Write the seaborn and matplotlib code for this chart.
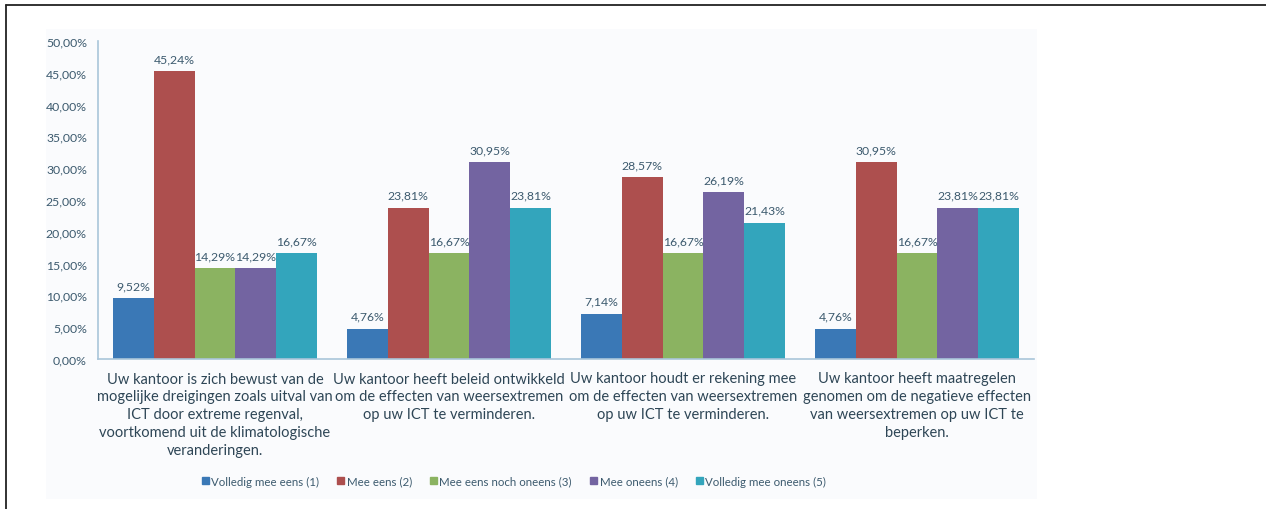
import matplotlib
matplotlib.use("Agg")
import matplotlib.pyplot as plt
import matplotlib.lines as mlines
import matplotlib.patches as mpatches
import pandas as pd
import seaborn as sns

# data
categories = [
    "Uw kantoor is zich bewust van de\nmogelijke dreigingen zoals uitval van\nICT door extreme regenval,\nvoortkomend uit de klimatologische\nveranderingen.",
    "Uw kantoor heeft beleid ontwikkeld\nom de effecten van weersextremen\nop uw ICT te verminderen.",
    "Uw kantoor houdt er rekening mee\nom de effecten van weersextremen\nop uw ICT te verminderen.",
    "Uw kantoor heeft maatregelen\ngenomen om de negatieve effecten\nvan weersextremen op uw ICT te\nbeperken.",
]
series = [
    "Volledig mee eens (1)",
    "Mee eens (2)",
    "Mee eens noch oneens (3)",
    "Mee oneens (4)",
    "Volledig mee oneens (5)",
]
volledig_eens = [9.52, 4.76, 7.14, 4.76]
mee_eens = [45.24, 23.81, 28.57, 30.95]
neutraal = [14.29, 16.67, 16.67, 16.67]
mee_oneens = [14.29, 30.95, 26.19, 23.81]
volledig_oneens = [16.67, 23.81, 21.43, 23.81]
y_ticks = [0, 5, 10, 15, 20, 25, 30, 35, 40, 45, 50]

colours = ["#3A78B6", "#AD4F4E", "#8BB361", "#7364A1", "#33A5BC"]

sns.set_style("white")
plt.rcParams["font.family"] = ["Lato", "DejaVu Sans"]

rows = []
for name, vals in zip(series, [volledig_eens, mee_eens, neutraal, mee_oneens, volledig_oneens]):
    for cat, v in zip(categories, vals):
        rows.append({"categorie": cat, "antwoord": name, "pct": v})
df = pd.DataFrame(rows)

fig = plt.figure(figsize=(12.66, 5.10), dpi=100)
fig.patch.set_facecolor("white")

# faint chart-area background
fig.add_artist(mpatches.Rectangle((46 / 1266, 1 - 500 / 510), (1037 - 46) / 1266, 470 / 510,
                                  transform=fig.transFigure, facecolor="#FAFBFD",
                                  edgecolor="none", zorder=-10))
# page frame lines (left and top)
fig.add_artist(mlines.Line2D([6 / 1266, 6 / 1266], [0, 1 - 6 / 510], color="#222222", lw=1.3))
fig.add_artist(mlines.Line2D([6 / 1266, 1], [1 - 6 / 510, 1 - 6 / 510], color="#222222", lw=1.3))

ax = fig.add_axes([98 / 1266, 1 - 360 / 510, (1034 - 98) / 1266, (360 - 42) / 510])
ax.set_facecolor("none")

sns.barplot(data=df, x="categorie", y="pct", hue="antwoord", hue_order=series,
            order=categories, palette=colours, width=0.87, gap=0, saturation=1,
            edgecolor="none", ax=ax)

for cont in ax.containers:
    ax.bar_label(cont, labels=[f"{v:.2f}%".replace(".", ",") for v in cont.datavalues],
                 padding=5, fontsize=8.8, color="#3C5A6E")

ax.set_ylim(0, 50)
ax.set_yticks(y_ticks)
ax.set_yticklabels([f"{t:.2f}%".replace(".", ",") for t in y_ticks], fontsize=8.8, color="#3C5A6E")
ax.set_xlim(-0.5, 3.5)
ax.set_xlabel("")
ax.set_ylabel("")
ax.tick_params(axis="x", length=0, pad=9, labelsize=10.5, labelcolor="#2E4656")
ax.tick_params(axis="y", length=0, pad=8)
for lab in ax.get_xticklabels():
    lab.set_linespacing(1.35)

for side in ["top", "right"]:
    ax.spines[side].set_visible(False)
for side in ["left", "bottom"]:
    ax.spines[side].set_color("#A9C5DA")
    ax.spines[side].set_linewidth(1.2)

handles = [mpatches.Patch(color=c, label=s) for c, s in zip(colours, series)]
ax.get_legend().remove()
fig.legend(handles=handles, loc="center", bbox_to_anchor=(514 / 1266, 1 - 482 / 510),
           ncol=5, frameon=False, fontsize=8.3, handlelength=0.6, handleheight=0.6,
           handletextpad=0.2, columnspacing=1.6, labelcolor="#3C5A6E")

fig.savefig("out.png", dpi=100)
